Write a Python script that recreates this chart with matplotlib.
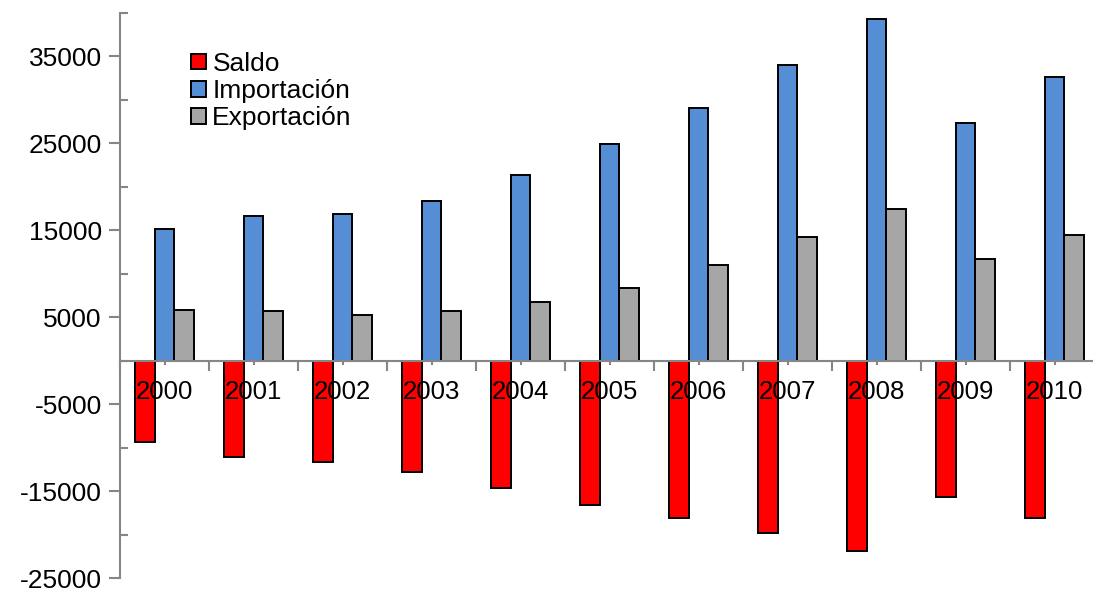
import numpy as np
import matplotlib
matplotlib.use('Agg')
import matplotlib.pyplot as plt
from matplotlib.ticker import FixedLocator

plt.rcParams['font.family'] = ['Liberation Sans', 'DejaVu Sans']

# data
years = ['2000', '2001', '2002', '2003', '2004', '2005', '2006', '2007', '2008', '2009', '2010']
saldo = [-9300, -11100, -11700, -12800, -14700, -16600, -18100, -19800, -21900, -15700, -18100]
importacion = [15100, 16700, 16900, 18400, 21400, 24900, 29100, 34000, 39300, 27400, 32600]
exportacion = [5800, 5700, 5200, 5700, 6700, 8400, 11000, 14250, 17400, 11700, 14500]

series = [('Saldo', saldo, '#ff0000'),
          ('Importación', importacion, '#558ed5'),
          ('Exportación', exportacion, '#a6a6a6')]

fig = plt.figure(figsize = (10.93, 5.92), dpi = 100)
ax = fig.add_axes([120/1093, 14/592, 979/1093, 565/592])
ax.set_axisbelow(False)

x = np.arange(len(years))
w = 1 / 4.5
for i, (name, vals, col) in enumerate(series):
    ax.bar(x + (i - 1) * w, vals, width = w, color = col, edgecolor = 'black',
           linewidth = 1.4, label = name, zorder = 1)

ax.set_xlim(-0.5, len(years) - 0.5)
ax.set_ylim(-25000, 40000)

# axes look
axis_col = '#868686'
for s in ['top', 'right']:
    ax.spines[s].set_visible(False)
ax.spines['bottom'].set_position(('data', 0))
for s in ['bottom', 'left']:
    ax.spines[s].set_color(axis_col)
    ax.spines[s].set_linewidth(1.5)
    ax.spines[s].set_zorder(3)

ax.set_xticks(x)
ax.set_xticklabels(years, fontsize = 18.5)
ax.xaxis.set_minor_locator(FixedLocator(np.arange(-0.5, len(years), 1)))
ax.tick_params(axis = 'x', which = 'major', direction = 'out', length = 3, width = 1.5,
               color = axis_col, pad = 11)
ax.tick_params(axis = 'x', which = 'minor', direction = 'out', length = 7, width = 1.5,
               color = axis_col)

ax.set_yticks(np.arange(-25000, 35001, 10000))
ax.set_yticklabels([str(v) for v in range(-25000, 35001, 10000)], fontsize = 19)
ax.yaxis.set_minor_locator(FixedLocator(np.arange(-20000, 40001, 10000)))
ax.tick_params(axis = 'y', which = 'major', direction = 'out', length = 8, width = 1.5,
               color = axis_col, pad = 5)
ax.tick_params(axis = 'y', which = 'minor', direction = 'in', length = 6, width = 1.5,
               color = axis_col)

leg = ax.legend(loc = 'upper left', bbox_to_anchor = (0.062, 0.95), frameon = False,
                fontsize = 19, handlelength = 0.55, handleheight = 0.55, handletextpad = 0.25,
                labelspacing = 0.12, borderaxespad = 0)

fig.savefig('out.png', dpi = 100)
